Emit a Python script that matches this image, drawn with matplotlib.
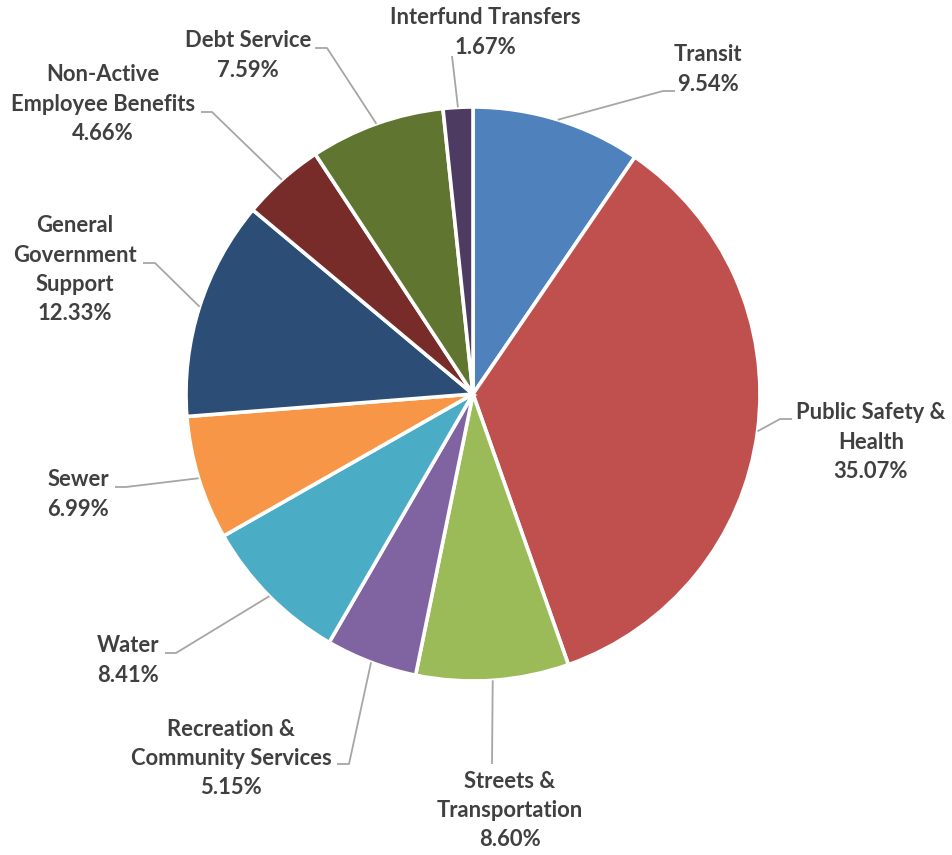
import numpy as np
import matplotlib
matplotlib.use("Agg")
import matplotlib.pyplot as plt

# Budget shares by category (percent)
categories = [
    "Transit",
    "Public Safety &\nHealth",
    "Streets &\nTransportation",
    "Recreation &\nCommunity Services",
    "Water",
    "Sewer",
    "General\nGovernment\nSupport",
    "Non-Active\nEmployee Benefits",
    "Debt Service",
    "Interfund Transfers",
]
shares = [9.54, 35.07, 8.60, 5.15, 8.41, 6.99, 12.33, 4.66, 7.59, 1.67]
colors = ["#4F81BD", "#C0504D", "#9BBB59", "#8064A2", "#4BACC6",
          "#F79646", "#2C4D75", "#772C2A", "#5F7530", "#4D3B62"]

W, H = 952, 855
CX, CY, R = 473, 394, 287          # pie centre / radius in pixel units (y down)

# label layout: text centre x, first-line y, leader elbow, leader end (pixel units, y down)
label_layout = [
    dict(x=708, y=55,  elbow=(663, 91),  end=(675, 91)),
    dict(x=871, y=413, elbow=(780, 419), end=(792, 419)),
    dict(x=510, y=781, elbow=(492, 764), end=(492, 764)),
    dict(x=231, y=729, elbow=(349, 764), end=(337, 764)),
    dict(x=128, y=646, elbow=(176, 653), end=(165, 653)),
    dict(x=78,  y=480, elbow=(126, 487), end=(115, 487)),
    dict(x=75,  y=226, elbow=(155, 263), end=(143, 263)),
    dict(x=103, y=75,  elbow=(212, 112), end=(201, 112)),
    dict(x=248, y=41,  elbow=(327, 48),  end=(315, 48)),
    dict(x=485, y=18,  elbow=(452, 56),  end=(452, 56)),
]
LINE_H = 29.3
TEXT_COLOR = "#404040"
LEADER_COLOR = "#A6A6A6"


def fy(py):
    """Convert a top-down pixel row into the axes' upward y coordinate."""
    return H - py


fig = plt.figure(figsize=(W / 100, H / 100), dpi=100)
ax = fig.add_axes([0, 0, 1, 1])

wedges, _ = ax.pie(
    shares,
    colors=colors,
    startangle=90,
    counterclock=False,
    center=(CX, fy(CY)),
    radius=R,
    wedgeprops=dict(edgecolor="white", linewidth=2.6),
    frame=True,
)
ax.set_xlim(0, W)
ax.set_ylim(0, H)
ax.set_aspect("equal")
ax.axis("off")

font = dict(family=["Lato", "DejaVu Sans"], fontweight="bold", fontsize=15.8,
            color=TEXT_COLOR)

for w, name, val, lay in zip(wedges, categories, shares, label_layout):
    mid = np.deg2rad((w.theta1 + w.theta2) / 2)
    ex = CX + R * np.cos(mid)
    ey = fy(CY) + R * np.sin(mid)
    bx, by = lay["elbow"]
    tx, ty = lay["end"]
    ax.plot([ex, bx, tx], [ey, fy(by), fy(ty)], color=LEADER_COLOR, lw=1.3,
            solid_capstyle="butt", zorder=1)
    lines = name.split("\n") + [f"{val:.2f}%"]
    for i, line in enumerate(lines):
        ax.text(lay["x"], fy(lay["y"] + i * LINE_H), line, ha="center",
                va="center", **font)

fig.savefig("out.png", dpi=100, facecolor="white")
